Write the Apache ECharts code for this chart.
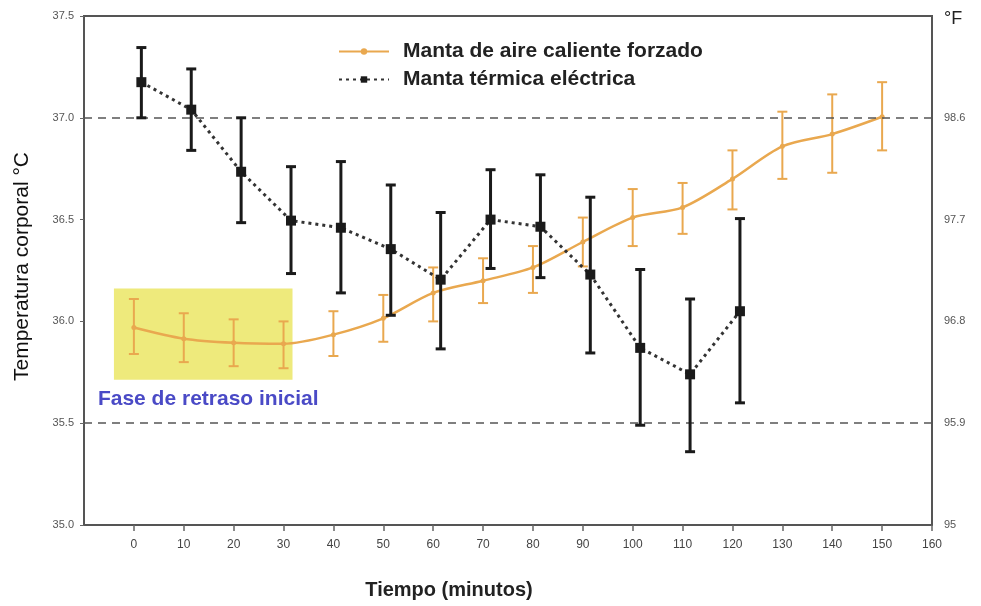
<!DOCTYPE html>
<html>
<head>
<meta charset="utf-8">
<script src="https://cdn.jsdelivr.net/npm/echarts@6/dist/echarts.min.js"></script>
<style>
html,body{margin:0;padding:0;background:#fff;}
#chart{width:981px;height:606px;}
</style>
</head>
<body>
<div id="chart"></div>
<script>
// ---- Data ----
const seriesNames = ['Manta de aire caliente forzado', 'Manta térmica eléctrica'];

const minutesOrange = [0, 10, 20, 30, 40, 50, 60, 70, 80, 90, 100, 110, 120, 130, 140, 150];
const tempOrange    = [35.97, 35.915, 35.895, 35.89, 35.935, 36.015, 36.14, 36.2, 36.265, 36.39, 36.51, 36.56, 36.7, 36.86, 36.92, 37.005];
const orangeLow     = [35.84, 35.80, 35.78, 35.77, 35.83, 35.90, 36.00, 36.09, 36.14, 36.27, 36.37, 36.43, 36.55, 36.70, 36.73, 36.84];
const orangeHigh    = [36.11, 36.04, 36.01, 36.00, 36.05, 36.13, 36.265, 36.31, 36.37, 36.51, 36.65, 36.68, 36.84, 37.03, 37.115, 37.175];

const minutesBlack  = [1.5, 11.5, 21.5, 31.5, 41.5, 51.5, 61.5, 71.5, 81.5, 91.5, 101.5, 111.5, 121.5];
const tempBlack     = [37.175, 37.04, 36.735, 36.495, 36.46, 36.355, 36.205, 36.5, 36.465, 36.23, 35.87, 35.74, 36.05];
const blackLow      = [37.0, 36.84, 36.485, 36.235, 36.14, 36.03, 35.865, 36.26, 36.215, 35.845, 35.49, 35.36, 35.60];
const blackHigh     = [37.345, 37.24, 37.0, 36.76, 36.785, 36.67, 36.535, 36.745, 36.72, 36.61, 36.255, 36.11, 36.505];

const xTicks = [0, 10, 20, 30, 40, 50, 60, 70, 80, 90, 100, 110, 120, 130, 140, 150, 160];
const yTicksC = [35.0, 35.5, 36.0, 36.5, 37.0, 37.5];
const yLabelsC = ['35.0', '35.5', '36.0', '36.5', '37.0', '37.5'];
const yLabelsF = ['95', '95.9', '96.8', '97.7', '98.6', '°F'];
const refLines = [37.0, 35.5];
const lagPhase = { x: [-4, 31.8], y: [35.714, 36.161], label: 'Fase de retraso inicial' };

// ---- Build ----
const orangeColor = '#e9a84f';
const blackColor = '#1a1a1a';
const font = 'Liberation Sans, Arial, sans-serif';

function labelFor(list, v) {
  const i = yTicksC.findIndex(t => Math.abs(t - v) < 1e-6);
  return i >= 0 ? list[i] : '';
}

function errorBars(color, width, cap) {
  return function (params, api) {
    const x = api.value(0), lo = api.value(1), hi = api.value(2);
    const a = api.coord([x, hi]), b = api.coord([x, lo]);
    const st = { stroke: color, lineWidth: width };
    return {
      type: 'group',
      children: [
        { type: 'line', shape: { x1: a[0], y1: a[1], x2: b[0], y2: b[1] }, style: st },
        { type: 'line', shape: { x1: a[0] - cap, y1: a[1], x2: a[0] + cap, y2: a[1] }, style: st },
        { type: 'line', shape: { x1: b[0] - cap, y1: b[1], x2: b[0] + cap, y2: b[1] }, style: st }
      ]
    };
  };
}

const chart = echarts.init(document.getElementById('chart'));
chart.setOption({
  backgroundColor: '#ffffff',
  animation: false,
  grid: {
    left: 84, right: 49, top: 16, bottom: 81,
    outerBoundsMode: 'none', containLabel: false,
    show: true, borderColor: '#555', borderWidth: 2, backgroundColor: 'transparent'
  },
  legend: {
    orient: 'vertical',
    left: 333,
    top: 36,
    itemWidth: 50,
    itemHeight: 8,
    itemGap: 7,
    data: seriesNames,
    textStyle: { fontFamily: font, fontSize: 21, fontWeight: 'bold', color: '#222', padding: [0, 0, 0, 9] }
  },
  xAxis: {
    type: 'value',
    min: -10, max: 160, interval: 10,
    name: 'Tiempo (minutos)',
    nameLocation: 'middle',
    nameGap: 55,
    nameTextStyle: { fontFamily: font, fontSize: 20, fontWeight: 'bold', color: '#222', padding: [0, 118, 0, 0] },
    splitLine: { show: false },
    axisLine: { onZero: false, lineStyle: { color: '#555', width: 2 } },
    axisTick: { show: true, customValues: xTicks, length: 6, lineStyle: { color: '#666', width: 1.5 } },
    axisLabel: { customValues: xTicks, margin: 14, fontFamily: font, fontSize: 12, color: '#444' }
  },
  yAxis: [
    {
      type: 'value', position: 'left',
      min: 35, max: 37.5, interval: 0.5,
      name: 'Temperatura corporal °C',
      nameLocation: 'middle', nameGap: 51, nameRotate: 90,
      nameTextStyle: { fontFamily: font, fontSize: 21, color: '#111', padding: [0, 0, 0, 8] },
      splitLine: { show: false },
      axisLine: { show: true, onZero: false, lineStyle: { color: '#555', width: 2 } },
      axisTick: { show: true, length: 4, lineStyle: { color: '#666' } },
      axisLabel: { fontFamily: font, fontSize: 11, color: '#555', margin: 10, formatter: v => labelFor(yLabelsC, v) }
    },
    {
      type: 'value', position: 'right',
      min: 35, max: 37.5, interval: 0.5,
      splitLine: { show: false },
      axisLine: { show: true, onZero: false, lineStyle: { color: '#555', width: 2 } },
      axisTick: { show: false },
      axisLabel: {
        fontFamily: font, fontSize: 11, color: '#555', margin: 12,
        formatter: v => {
          const s = labelFor(yLabelsF, v);
          return s === '°F' ? '{f|°F}' : s;
        },
        rich: { f: { fontFamily: font, fontSize: 18, color: '#222', padding: [6, 0, 0, 0] } }
      }
    }
  ],
  series: [
    {
      name: 'lag',
      type: 'line',
      data: [],
      silent: true,
      markArea: {
        silent: true,
        itemStyle: { color: '#eeea7c' },
        label: {
          show: true, position: 'bottom', distance: 9,
          fontFamily: font, fontSize: 21, fontWeight: 'bold', color: '#4a4ac6', padding: [0, 0, 0, 10]
        },
        data: [[{ name: lagPhase.label, xAxis: lagPhase.x[0], yAxis: lagPhase.y[1] }, { xAxis: lagPhase.x[1], yAxis: lagPhase.y[0] }]]
      },
      markLine: {
        silent: true,
        symbol: 'none',
        label: { show: false },
        lineStyle: { color: '#555', type: [8, 6], width: 1.5 },
        data: refLines.map(v => ({ yAxis: v }))
      }
    },
    {
      name: 'orangeErr',
      type: 'custom',
      renderItem: errorBars(orangeColor, 2, 5),
      encode: { x: 0, y: [1, 2] },
      data: minutesOrange.map((m, i) => [m, orangeLow[i], orangeHigh[i]]),
      z: 3, silent: true
    },
    {
      name: seriesNames[0],
      type: 'line',
      data: minutesOrange.map((m, i) => [m, tempOrange[i]]),
      smooth: 0.3,
      symbol: 'circle', symbolSize: 5,
      itemStyle: { color: orangeColor },
      lineStyle: { color: orangeColor, width: 2.5 },
      z: 4
    },
    {
      name: 'blackErr',
      type: 'custom',
      renderItem: errorBars(blackColor, 3, 5),
      encode: { x: 0, y: [1, 2] },
      data: minutesBlack.map((m, i) => [m, blackLow[i], blackHigh[i]]),
      z: 5, silent: true
    },
    {
      name: seriesNames[1],
      type: 'line',
      data: minutesBlack.map((m, i) => [m, tempBlack[i]]),
      symbol: 'rect', symbolSize: 10,
      itemStyle: { color: blackColor },
      lineStyle: { color: '#333', width: 3, type: [3, 4] },
      z: 6
    }
  ]
});
</script>
</body>
</html>
